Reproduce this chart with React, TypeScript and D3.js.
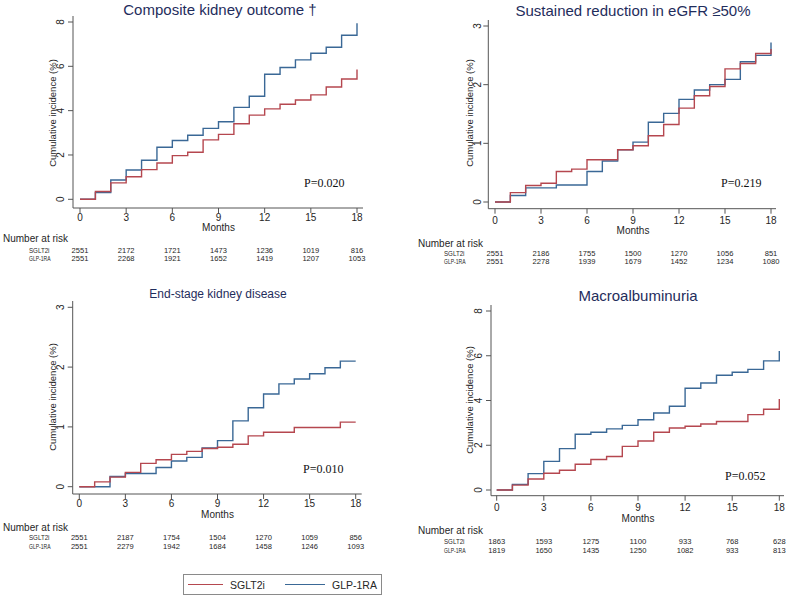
import React from "react";
import * as d3 from "d3";

// ---------- data ----------
const months = [0, 1, 2, 3, 4, 5, 6, 7, 8, 9, 10, 11, 12, 13, 14, 15, 16, 17, 18];
const xTicks = [0, 3, 6, 9, 12, 15, 18];
const groups = ["SGLT2i", "GLP-1RA"];

const compositeSGLT2i = [0, 0.35, 0.74, 1.02, 1.34, 1.64, 1.97, 2.12, 2.68, 2.93, 3.41, 3.8, 4.08, 4.29, 4.48, 4.71, 5.07, 5.43, 5.86];
const compositeGLP1RA = [0, 0.3, 0.87, 1.32, 1.76, 2.35, 2.65, 2.89, 3.2, 3.5, 4.15, 4.65, 5.64, 5.95, 6.29, 6.59, 6.86, 7.4, 7.94];
const compositeRiskSGLT2i = [2551, 2172, 1721, 1473, 1236, 1019, 816];
const compositeRiskGLP1RA = [2551, 2268, 1921, 1652, 1419, 1207, 1053];

const egfrSGLT2i = [0, 0.16, 0.28, 0.32, 0.52, 0.56, 0.72, 0.72, 0.89, 0.96, 1.13, 1.32, 1.6, 1.81, 1.97, 2.27, 2.36, 2.53, 2.61];
const egfrGLP1RA = [0, 0.11, 0.24, 0.24, 0.29, 0.29, 0.52, 0.7, 0.89, 1.02, 1.36, 1.51, 1.75, 1.91, 2.0, 2.09, 2.39, 2.5, 2.72];
const egfrRiskSGLT2i = [2551, 2186, 1755, 1500, 1270, 1056, 851];
const egfrRiskGLP1RA = [2551, 2278, 1939, 1679, 1452, 1234, 1080];

const esrdSGLT2i = [0, 0.08, 0.16, 0.24, 0.39, 0.45, 0.54, 0.59, 0.64, 0.66, 0.71, 0.85, 0.91, 0.91, 0.99, 0.99, 0.99, 1.08, 1.08];
const esrdGLP1RA = [0, 0, 0.17, 0.22, 0.22, 0.32, 0.43, 0.49, 0.65, 0.77, 1.1, 1.32, 1.55, 1.72, 1.8, 1.89, 1.99, 2.1, 2.1];
const esrdRiskSGLT2i = [2551, 2187, 1754, 1504, 1270, 1059, 856];
const esrdRiskGLP1RA = [2551, 2279, 1942, 1684, 1458, 1246, 1093];

const macroSGLT2i = [0, 0.22, 0.49, 0.75, 0.88, 1.15, 1.36, 1.5, 1.95, 2.19, 2.58, 2.77, 2.85, 2.95, 3.06, 3.06, 3.37, 3.61, 4.07];
const macroGLP1RA = [0, 0.25, 0.73, 1.28, 1.85, 2.49, 2.58, 2.73, 2.89, 3.14, 3.44, 3.74, 4.55, 4.78, 5.13, 5.26, 5.39, 5.77, 6.21];
const macroRiskSGLT2i = [1863, 1593, 1275, 1100, 933, 768, 628];
const macroRiskGLP1RA = [1819, 1650, 1435, 1250, 1082, 933, 813];

const titles = ["Composite kidney outcome †", "Sustained reduction in eGFR ≥50%", "End-stage kidney disease", "Macroalbuminuria"];
const pValues = ["P=0.020", "P=0.219", "P=0.010", "P=0.052"];
const yTicks8 = [0, 2, 4, 6, 8];
const yTicks3 = [0, 1, 2, 3];

// ---------- style / layout ----------
const RED = "#b5474f";
const BLUE = "#3a6896";
const AXIS = "#555555";
const TEXT = "#262626";
const TITLE = "#1f2d5c";
const SANS = "'Liberation Sans', Arial, sans-serif";
const SERIF = "'Liberation Serif', 'Times New Roman', serif";

const panels = [
  {
    title: titles[0], titleSize: 15, titleX: 220, titleY: 15,
    p: pValues[0], pX: 304, pY: 187,
    sglt: compositeSGLT2i, glp: compositeGLP1RA, riskS: compositeRiskSGLT2i, riskG: compositeRiskGLP1RA,
    yMax: 8, yTicks: yTicks8,
    axisX: 73, x0: 80, x1: 357, xEnd: 363, axisTop: 16, axisY: 208, y0: 199.3, y1: 22,
    tickBase: 220.5, monthsBase: 231, narBase: 242, row1: 252.5, row2: 260.5,
    yTitleX: 55.5, yTitleY: 113, yLabX: 63.5, narX: 3, rowX: 29,
  },
  {
    title: titles[1], titleSize: 15, titleX: 633, titleY: 16,
    p: pValues[1], pX: 721, pY: 187,
    sglt: egfrSGLT2i, glp: egfrGLP1RA, riskS: egfrRiskSGLT2i, riskG: egfrRiskGLP1RA,
    yMax: 3, yTicks: yTicks3,
    axisX: 488.3, x0: 495, x1: 771, xEnd: 776, axisTop: 20, axisY: 208.7, y0: 202, y1: 26,
    tickBase: 223.5, monthsBase: 234, narBase: 246.5, row1: 255.5, row2: 263.5,
    yTitleX: 472.5, yTitleY: 113, yLabX: 481, narX: 418, rowX: 444,
  },
  {
    title: titles[2], titleSize: 12, titleX: 218, titleY: 297.5,
    p: pValues[2], pX: 303, pY: 473,
    sglt: esrdSGLT2i, glp: esrdGLP1RA, riskS: esrdRiskSGLT2i, riskG: esrdRiskGLP1RA,
    yMax: 3, yTicks: yTicks3,
    axisX: 72.7, x0: 79.3, x1: 355.7, xEnd: 361.7, axisTop: 301, axisY: 494, y0: 486.7, y1: 307.3,
    tickBase: 507.2, monthsBase: 518, narBase: 531, row1: 540, row2: 549,
    yTitleX: 55.5, yTitleY: 397, yLabX: 63.5, narX: 3, rowX: 29,
  },
  {
    title: titles[3], titleSize: 15, titleX: 638, titleY: 301,
    p: pValues[3], pX: 725, pY: 480,
    sglt: macroSGLT2i, glp: macroGLP1RA, riskS: macroRiskSGLT2i, riskG: macroRiskGLP1RA,
    yMax: 8, yTicks: yTicks8,
    axisX: 491, x0: 496.7, x1: 779.3, xEnd: 784, axisTop: 305, axisY: 495.7, y0: 490, y1: 311,
    tickBase: 511.2, monthsBase: 522, narBase: 534.3, row1: 544.3, row2: 552.7,
    yTitleX: 472.5, yTitleY: 400, yLabX: 482, narX: 418, rowX: 444,
  },
];

function Panel({ cfg }: { cfg: any }) {
  const x = d3.scaleLinear().domain([0, 18]).range([cfg.x0, cfg.x1]);
  const y = d3.scaleLinear().domain([0, cfg.yMax]).range([cfg.y0, cfg.y1]);
  const line = d3
    .line<number>()
    .x((_, i) => x(months[i]))
    .y((d) => y(d))
    .curve(d3.curveStepAfter);
  const numW = (n: number) => String(n).length * 4.2;
  return (
    <g>
      <text x={cfg.titleX} y={cfg.titleY} textAnchor="middle" fontFamily={SANS} fontSize={cfg.titleSize} fill={TITLE}>
        {cfg.title}
      </text>
      {/* axes */}
      <line x1={cfg.axisX} x2={cfg.axisX} y1={cfg.axisTop} y2={cfg.axisY} stroke={AXIS} strokeWidth={1} />
      <line x1={cfg.axisX} x2={cfg.xEnd} y1={cfg.axisY} y2={cfg.axisY} stroke={AXIS} strokeWidth={1} />
      {cfg.yTicks.map((t: number) => (
        <g key={"y" + t}>
          <line x1={cfg.axisX - 5} x2={cfg.axisX} y1={y(t)} y2={y(t)} stroke={AXIS} />
          <text
            transform={`translate(${cfg.yLabX},${y(t)}) rotate(-90)`}
            textAnchor="middle"
            fontFamily={SANS}
            fontSize={10}
            fill={TEXT}
          >
            {t}
          </text>
        </g>
      ))}
      {xTicks.map((t) => (
        <g key={"x" + t}>
          <line x1={x(t)} x2={x(t)} y1={cfg.axisY} y2={cfg.axisY + 5} stroke={AXIS} />
          <text x={x(t)} y={cfg.tickBase} textAnchor="middle" fontFamily={SANS} fontSize={10} fill={TEXT}>
            {t}
          </text>
        </g>
      ))}
      <text
        transform={`translate(${cfg.yTitleX},${cfg.yTitleY}) rotate(-90)`}
        textAnchor="middle"
        fontFamily={SANS}
        fontSize={9.5}
        fill={TEXT}
      >
        Cumulative incidence (%)
      </text>
      <text x={(cfg.x0 + cfg.x1) / 2} y={cfg.monthsBase} textAnchor="middle" fontFamily={SANS} fontSize={10} fill={TEXT}>
        Months
      </text>
      {/* curves */}
      <path d={line(cfg.glp) || ""} fill="none" stroke={BLUE} strokeWidth={1.4} />
      <path d={line(cfg.sglt) || ""} fill="none" stroke={RED} strokeWidth={1.4} />
      <text x={cfg.pX} y={cfg.pY} fontFamily={SERIF} fontSize={12} fill="#111">
        {cfg.p}
      </text>
      {/* number at risk */}
      <text x={cfg.narX} y={cfg.narBase} fontFamily={SANS} fontSize={10} fill={TEXT}>
        Number at risk
      </text>
      <text x={cfg.rowX} y={cfg.row1} fontFamily={SANS} fontSize={8} fill={TEXT} textLength={20.5} lengthAdjust="spacingAndGlyphs">
        {groups[0]}
      </text>
      <text x={cfg.rowX} y={cfg.row2} fontFamily={SANS} fontSize={8} fill={TEXT} textLength={21.5} lengthAdjust="spacingAndGlyphs">
        {groups[1]}
      </text>
      {cfg.riskS.map((n: number, i: number) => (
        <text
          key={"s" + i}
          x={x(xTicks[i]) - numW(n) / 2}
          y={cfg.row1}
          fontFamily={SANS}
          fontSize={8}
          fill={TEXT}
          textLength={numW(n)}
          lengthAdjust="spacingAndGlyphs"
        >
          {n}
        </text>
      ))}
      {cfg.riskG.map((n: number, i: number) => (
        <text
          key={"g" + i}
          x={x(xTicks[i]) - numW(n) / 2}
          y={cfg.row2}
          fontFamily={SANS}
          fontSize={8}
          fill={TEXT}
          textLength={numW(n)}
          lengthAdjust="spacingAndGlyphs"
        >
          {n}
        </text>
      ))}
    </g>
  );
}

export default function App() {
  return (
    <svg
      width={791}
      height={596}
      style={{ position: "absolute", left: 0, top: 0, background: "#fff" }}
    >
      <rect x={0} y={0} width={791} height={596} fill="#fff" />
      {panels.map((p, i) => (
        <Panel key={i} cfg={p} />
      ))}
      {/* legend */}
      <rect x={183.5} y={574.5} width={198} height={20} fill="#fff" stroke="#8a8a8a" strokeWidth={1} />
      <line x1={188} x2={223} y1={584.5} y2={584.5} stroke={RED} strokeWidth={1.2} />
      <text x={230} y={588.5} fontFamily={SANS} fontSize={10.5} fill={TEXT}>
        {groups[0]}
      </text>
      <line x1={285} x2={325} y1={584.5} y2={584.5} stroke={BLUE} strokeWidth={1.2} />
      <text x={332} y={588.5} fontFamily={SANS} fontSize={10.5} fill={TEXT}>
        {groups[1]}
      </text>
    </svg>
  );
}
